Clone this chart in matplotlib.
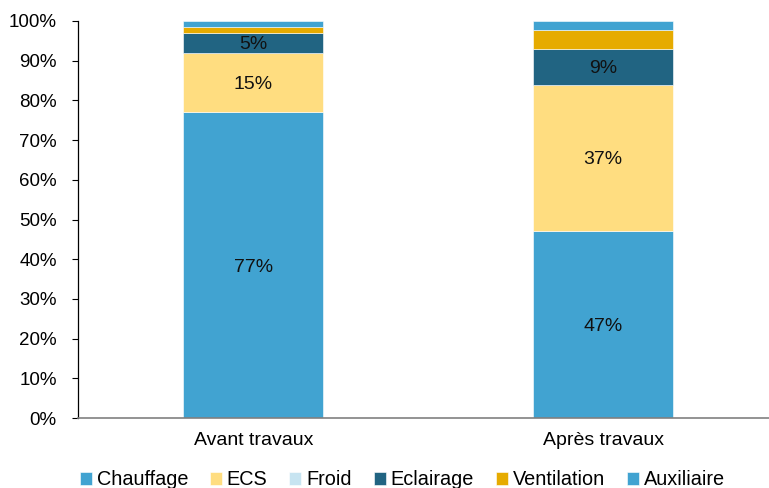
import matplotlib

matplotlib.use("Agg")

import matplotlib.pyplot as plt  # noqa: E402
import numpy as np  # noqa: E402

plt.rcParams["font.family"] = ["Liberation Sans", "DejaVu Sans"]

# energy use split, in % of total, before / after renovation
scenarios = ["Avant travaux", "Après travaux"]
postes = ["Chauffage", "ECS", "Froid", "Eclairage", "Ventilation", "Auxiliaire"]
chauffage = [77, 47]
ecs = [15, 37]
froid = [0, 0]
eclairage = [5, 9]
ventilation = [1.4, 4.7]
auxiliaire = [1.6, 2.3]
labelled = ["Chauffage", "ECS", "Eclairage"]

colors = {
    "Chauffage": "#41a3d1",
    "ECS": "#ffdd80",
    "Froid": "#c7e4f1",
    "Eclairage": "#216482",
    "Ventilation": "#e6ab00",
    "Auxiliaire": "#41a3d1",
}


def main() -> int:
    series = dict(zip(postes, [chauffage, ecs, froid, eclairage, ventilation, auxiliaire]))
    fig = plt.figure(figsize=(7.69, 4.88), dpi=100)
    ax = fig.add_axes([0.1018, 0.1434, 0.9099, 0.8136])

    x = np.arange(len(scenarios))
    bottom = np.zeros(len(scenarios))
    for name in postes:
        vals = np.array(series[name], dtype=float)
        ax.bar(x, vals, 0.4, bottom=bottom, color=colors[name], label=name,
               edgecolor="white", linewidth=0.4)
        if name in labelled:
            for xi, b, v in zip(x, bottom, vals):
                ax.text(xi, b + v / 2, f"{v:.0f}%", ha="center",
                        va="center_baseline", fontsize=14, color="#111111")
        bottom += vals

    ax.set_xlim(-0.5, 1.5)
    ax.set_ylim(0, 100)
    ax.set_yticks(np.arange(0, 101, 10))
    ax.set_yticklabels([f"{t}%" for t in range(0, 101, 10)])
    ax.set_xticks(x)
    ax.set_xticklabels(scenarios)
    ax.tick_params(axis="y", length=4.5, width=0.8, labelsize=13.5, pad=11)
    ax.tick_params(axis="x", length=0, labelsize=14, pad=10)
    for s in ("top", "right"):
        ax.spines[s].set_visible(False)
    ax.spines["left"].set_color("#000000")
    ax.spines["left"].set_linewidth(0.9)
    ax.spines["bottom"].set_color("#808080")
    ax.spines["bottom"].set_linewidth(1.2)

    fig.legend(*ax.get_legend_handles_labels(), loc="center",
               bbox_to_anchor=(0.523, 0.017), ncol=6, frameon=False,
               fontsize=14.3, handlelength=0.6, handleheight=0.6,
               handletextpad=0.25, columnspacing=1.1, borderaxespad=0)

    fig.savefig("out.png", dpi=100)
    return 0


if __name__ == "__main__":
    main()
